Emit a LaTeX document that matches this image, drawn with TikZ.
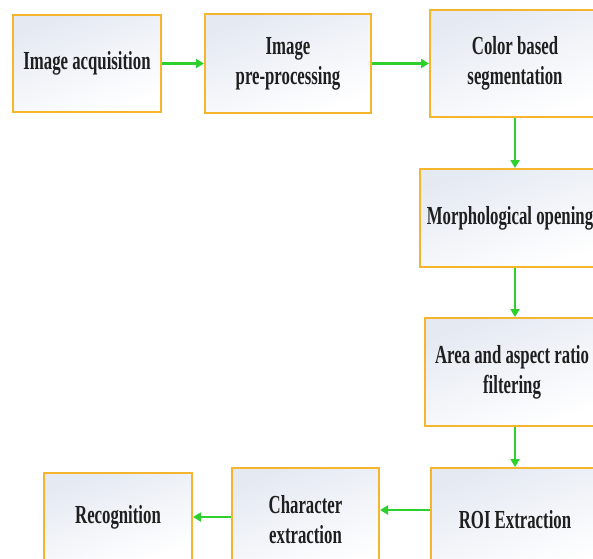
\documentclass[tikz,border=0pt]{standalone}
\usepackage{fontspec}
\newfontfamily\stagefont[FakeStretch=0.645]{Liberation Serif}
\usepackage{tikz}
\usetikzlibrary{arrows.meta, positioning, calc}
\definecolor{stageborder}{RGB}{245,182,45}
\definecolor{stagefill}{RGB}{228,233,242}
\definecolor{flowgreen}{RGB}{45,208,45}
\tikzset{
    stage/.style={
        draw=stageborder, line width=2pt,
        top color=stagefill, bottom color=white, shading angle=20,
        align=center, inner sep=2pt,
        font=\stagefont\bfseries\fontsize{26}{30}\selectfont,
        text=black!88
    },
    flow/.style={
        draw=flowgreen, line width=2.8pt,
        -{Triangle[length=8pt, width=9pt]}
    },
    downflow/.style={flow, line width=2pt}
}

\begin{document}
\begin{tikzpicture}
    \useasboundingbox (0pt,0pt) rectangle (593pt,-558pt);
    \clip (0pt,0pt) rectangle (593pt,-558pt);

    % top row
    \node[stage, minimum width=148pt, minimum height=97pt]
        (acq) at (87pt,-63.5pt) {Image acquisition};
    \node[stage, minimum width=166pt, minimum height=99pt, right=42pt of acq]
        (pre) {Image\\pre-processing};
    \node[stage, minimum width=170pt, minimum height=107pt, right=57pt of pre]
        (seg) {Color based\\segmentation};

    % right column
    \node[stage, minimum width=180pt, minimum height=98pt, below=50pt of seg, xshift=-5pt]
        (morph) {Morphological opening};
    \node[stage, minimum width=174pt, minimum height=108pt, below=49pt of morph, xshift=2pt]
        (area) {Area and aspect ratio\\filtering};
    \node[stage, minimum width=168pt, minimum height=104pt, below=40pt of area, xshift=3pt]
        (roi) {ROI Extraction};

    % bottom row
    \node[stage, minimum width=147pt, minimum height=104pt, left=50pt of roi]
        (char) {Character\\extraction};
    \node[stage, minimum width=148pt, minimum height=88pt, left=38pt of char, yshift=3pt]
        (recog) {Recognition};

    \draw[flow] (acq) -- (pre);
    \draw[flow] (pre) -- (seg);
    \draw[downflow] (seg.south) -- (seg.south |- morph.north);
    \draw[downflow] (seg.south |- morph.south) -- (seg.south |- area.north);
    \draw[downflow] (seg.south |- area.south) -- (seg.south |- roi.north);
    \draw[flow] (roi.west |- 0,-510pt) -- (char.east |- 0,-510pt);
    \draw[flow] (char.west |- recog) -- (recog.east);
\end{tikzpicture}
\end{document}
